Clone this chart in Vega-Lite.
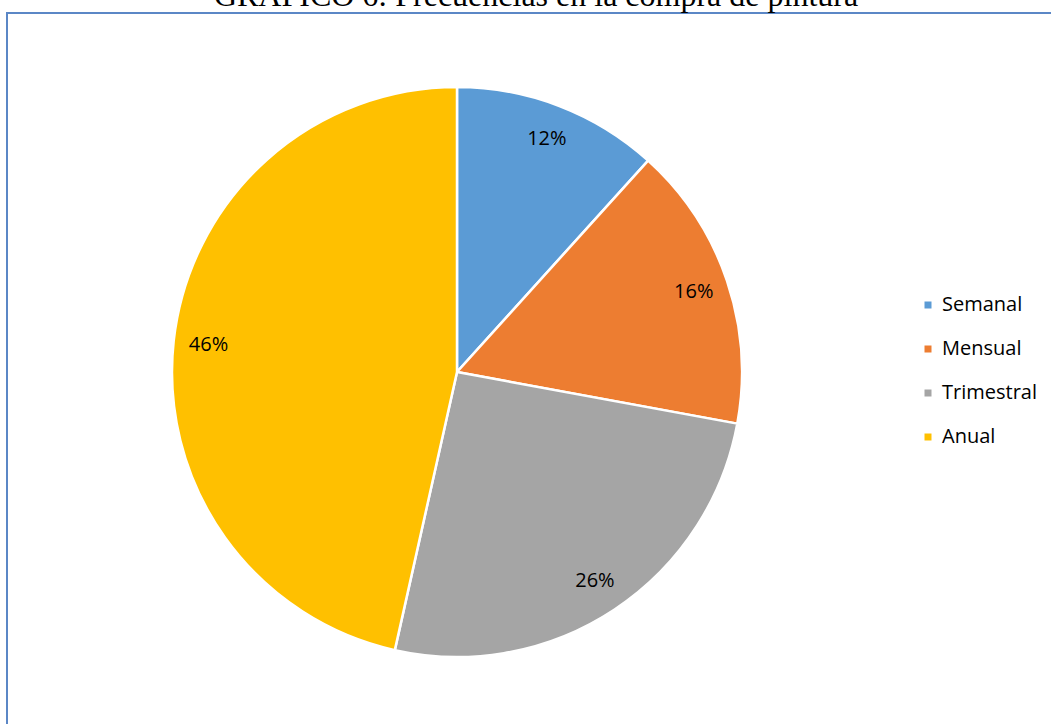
{
  "$schema": "https://vega.github.io/schema/vega-lite/v6.json",
  "autosize": {"type": "none"},
  "padding": {"left": 7, "top": 13, "right": 0, "bottom": 0},
  "width": 1100,
  "height": 800,
  "background": "white",
  "view": {"stroke": "#5B87C6", "strokeWidth": 2},
  "title": {
    "text": "GRÁFICO  6: Frecuencias en la compra de pintura",
    "font": "Liberation Serif",
    "fontSize": 32,
    "fontWeight": "normal",
    "color": "black",
    "anchor": "middle",
    "dx": -21,
    "offset": 0
  },
  "config": {
    "view": {"stroke": "#5B87C6", "strokeWidth": 2},
    "font": "Open Sans"
  },
  "data": {
    "values": [
      {"cat": "Semanal", "value": 11.7, "label": "12%", "ord": 1},
      {"cat": "Mensual", "value": 16.2, "label": "16%", "ord": 2},
      {"cat": "Trimestral", "value": 25.6, "label": "26%", "ord": 3},
      {"cat": "Anual", "value": 46.5, "label": "46%", "ord": 4}
    ]
  },
  "encoding": {
    "theta": {"field": "value", "type": "quantitative", "stack": true},
    "order": {"field": "ord", "type": "quantitative"}
  },
  "layer": [
    {
      "mark": {"type": "arc", "x": 450, "y": 359, "outerRadius": 285, "stroke": "white", "strokeWidth": 2.5},
      "encoding": {
        "color": {
          "field": "cat",
          "type": "nominal",
          "scale": {"domain": ["Semanal", "Mensual", "Trimestral", "Anual"], "range": ["#5B9BD5", "#ED7D31", "#A5A5A5", "#FFC000"]},
          "legend": {
            "title": null,
            "orient": "none",
            "legendX": 911,
            "legendY": 282,
            "symbolType": "square",
            "symbolSize": 49,
            "symbolStrokeWidth": 0,
            "labelFont": "Open Sans",
            "labelFontSize": 20,
            "labelColor": "black",
            "labelOffset": 4,
            "rowPadding": 24,
            "padding": 0
          }
        }
      }
    },
    {
      "mark": {"type": "text", "x": 450, "y": 359, "radius": 250, "font": "Open Sans", "fontSize": 20, "color": "black"},
      "encoding": {
        "text": {"field": "label", "type": "nominal"}
      }
    }
  ]
}
